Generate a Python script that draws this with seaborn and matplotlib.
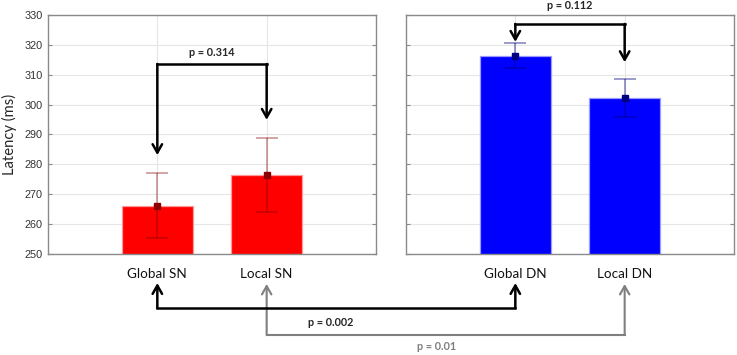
import numpy as np
import pandas as pd
import seaborn as sns
import matplotlib.pyplot as plt
from matplotlib.lines import Line2D
from matplotlib.patches import FancyArrowPatch

# data
conditions = ["Global SN", "Local SN", "Global DN", "Local DN"]
groups = ["SN", "SN", "DN", "DN"]
latency = [266.2, 276.5, 316.4, 302.1]
sem = [10.8, 12.3, 4.1, 6.4]

# within-group comparisons and across-group comparisons
p_within = {"SN": "p = 0.314", "DN": "p = 0.112"}
p_global = "p = 0.002"
p_local = "p = 0.01"

df = pd.DataFrame({"cond": conditions, "group": groups, "latency": latency, "sem": sem})

sns.set_style("white")
plt.rcParams["font.family"] = ["Lato", "DejaVu Sans"]

W, H = 737, 355
fig = plt.figure(figsize=(W / 100, H / 100), dpi=100)
ax1 = fig.add_axes([48 / W, 101 / H, 328 / W, 239 / H])
ax2 = fig.add_axes([406 / W, 101 / H, 328 / W, 239 / H])

styles = {
    "SN": dict(color="#ff0000", edge="#ff9a9a", mark="#8b0000", ecol=(0.5, 0.0, 0.0, 0.45)),
    "DN": dict(color="#0000ff", edge="#9a9aff", mark="#000080", ecol=(0.0, 0.0, 0.5, 0.5)),
}

for ax, grp in [(ax1, "SN"), (ax2, "DN")]:
    st = styles[grp]
    sub = df[df["group"] == grp].reset_index(drop=True)
    sns.barplot(data=sub, x="cond", y="latency", color=st["color"], saturation=1,
                width=0.65, edgecolor=st["edge"], linewidth=0.9, errorbar=None, ax=ax)
    ax.errorbar(np.arange(len(sub)), sub["latency"], yerr=sub["sem"], fmt="s", ms=4,
                color=st["mark"], ecolor=st["ecol"], elinewidth=1.1, capsize=8,
                capthick=1.1, zorder=4)
    ax.set_xlim(-1, 2)
    ax.set_ylim(250, 330)
    ax.set_yticks(range(250, 331, 10))
    ax.grid(True, color="#e6e6e6", lw=0.8)
    ax.set_axisbelow(True)
    ax.set_xlabel("")
    ax.set_ylabel("")
    for s in ax.spines.values():
        s.set_color("#8a8a8a")
        s.set_linewidth(1.0)
    ax.tick_params(axis="x", length=0, pad=10, labelsize=9.7, labelcolor="#111111")
    ax.tick_params(axis="y", direction="in", length=3, left=True, right=True,
                   color="#8a8a8a", pad=4, labelsize=7.8, labelcolor="#333333")
    for t in ax.get_yticklabels():
        t.set_family("Liberation Sans")

ax2.tick_params(axis="y", labelleft=False)
ax1.set_ylabel("Latency (ms)", fontsize=10.6, labelpad=5)

arrow_k = dict(arrowstyle="->,head_length=0.6,head_width=0.34", lw=1.8, color="black",
               shrinkA=0, shrinkB=0, mutation_scale=10)

# bracket inside the SN panel
ax1.plot([0, 1], [313.6, 313.6], color="black", lw=1.8, solid_capstyle="projecting")
ax1.annotate("", xy=(0, 283.1), xytext=(0, 313.6), arrowprops=arrow_k)
ax1.annotate("", xy=(1, 294.9), xytext=(1, 313.6), arrowprops=arrow_k)
ax1.text(0.5, 317.4, p_within["SN"], ha="center", va="center", fontsize=7.8, fontweight="bold")

# bracket inside the DN panel
ax2.plot([0, 1], [327, 327], color="black", lw=1.8, solid_capstyle="projecting", clip_on=False)
ax2.annotate("", xy=(0, 321.0), xytext=(0, 327), arrowprops=arrow_k, annotation_clip=False)
ax2.annotate("", xy=(1, 314.2), xytext=(1, 327), arrowprops=arrow_k, annotation_clip=False)
ax2.text(0.5, 333.3, p_within["DN"], ha="center", va="center", fontsize=7.8,
         fontweight="bold", clip_on=False)


# brackets below the panels, in figure pixels (y from the top)
def xpix(ax, i):
    return ax.transData.transform((i, 0))[0]


def fig_bracket(x0, x1, y_tip, y_bar, color, lw):
    fx = lambda x: x / W
    fy = lambda y: 1 - y / H
    fig.add_artist(Line2D([fx(x0), fx(x1)], [fy(y_bar), fy(y_bar)], transform=fig.transFigure,
                          color=color, lw=lw, solid_capstyle="projecting"))
    for x in (x0, x1):
        fig.add_artist(FancyArrowPatch((fx(x), fy(y_bar)), (fx(x), fy(y_tip)),
                                       transform=fig.transFigure,
                                       arrowstyle="->,head_length=0.6,head_width=0.34",
                                       mutation_scale=10, lw=lw, color=color,
                                       shrinkA=0, shrinkB=0))


fig_bracket(xpix(ax1, 1), xpix(ax2, 1), 284, 335, "#7f7f7f", 1.5)
fig_bracket(xpix(ax1, 0), xpix(ax2, 0), 283, 308, "black", 1.8)
fig.text(331 / W, 1 - 322 / H, p_global, ha="center", va="center", fontsize=7.8, fontweight="bold")
fig.text(437 / W, 1 - 347 / H, p_local, ha="center", va="center", fontsize=7.8,
         fontweight="bold", color="#7f7f7f")

fig.savefig("out.png", dpi=100)
